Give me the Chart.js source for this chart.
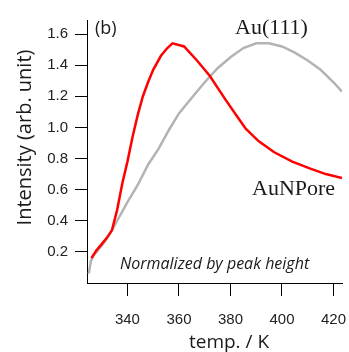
<!DOCTYPE html>
<html><head><meta charset="utf-8">
<script src="https://cdn.jsdelivr.net/npm/chart.js@4/dist/chart.umd.min.js"></script>
<style>html,body{margin:0;padding:0;background:#fff;overflow:hidden}</style>
</head><body>
<canvas id="c" width="349" height="352" style="width:349px;height:352px;display:block"></canvas>
<script>
// AuNPore (red)
const auNPoreTemp = [326, 328, 330, 332, 334, 336, 338, 340, 342, 344, 346, 348, 350, 353, 355.5, 357.5, 362, 367, 372, 378, 383, 386, 391, 397, 404, 411, 417, 423.3];
const auNPoreIntensity = [0.16, 0.21, 0.25, 0.29, 0.34, 0.47, 0.64, 0.78, 0.94, 1.08, 1.20, 1.29, 1.37, 1.46, 1.51, 1.54, 1.52, 1.43, 1.33, 1.18, 1.06, 0.99, 0.91, 0.84, 0.78, 0.735, 0.70, 0.675];
// Au(111) (grey)
const au111Temp = [325.0, 325.8, 327, 330, 333, 336, 340, 344, 348, 352, 356, 360, 365, 370, 375, 380, 385, 390, 395, 400, 405, 410, 415, 420, 423.3];
const au111Intensity = [0.06, 0.14, 0.18, 0.24, 0.31, 0.40, 0.52, 0.63, 0.76, 0.86, 0.98, 1.09, 1.19, 1.29, 1.38, 1.45, 1.51, 1.54, 1.54, 1.52, 1.48, 1.43, 1.37, 1.29, 1.23];
const xTickValues = [340, 360, 380, 400, 420];
const yTickValues = [0.2, 0.4, 0.6, 0.8, 1.0, 1.2, 1.4, 1.6];
const xAxisTitle = 'temp. / K';
const yAxisTitle = 'Intensity (arb. unit)';
const panelLabel = '(b)';
const au111Label = 'Au(111)';
const auNPoreLabel = 'AuNPore';
const noteText = 'Normalized by peak height';

const toPts = (xs, ys) => xs.map((x, i) => ({x: x, y: ys[i]}));

const textPlugin = {
  id: 'texts',
  afterDraw(chart) {
    const ctx = chart.ctx;
    ctx.save();
    ctx.fillStyle = '#1a1a1a';
    // y title
    ctx.save();
    ctx.translate(31, 137.5);
    ctx.rotate(-Math.PI / 2);
    ctx.font = '20px "Open Sans"';
    ctx.textAlign = 'center';
    ctx.textBaseline = 'alphabetic';
    ctx.fillText(yAxisTitle, 0, 0);
    ctx.restore();
    // x title
    ctx.font = '19px "Open Sans"';
    ctx.textAlign = 'center';
    ctx.textBaseline = 'alphabetic';
    ctx.fillText(xAxisTitle, 229, 348);
    // panel label
    ctx.textAlign = 'left';
    ctx.font = '18px "Open Sans"';
    ctx.fillText(panelLabel, 95, 34);
    // series labels
    ctx.font = '22px "Liberation Serif"';
    ctx.fillText(au111Label, 235, 34);
    ctx.fillText(auNPoreLabel, 252, 195);
    // note
    ctx.font = 'italic 16px "Open Sans"';
    ctx.fillText(noteText, 120, 269);
    ctx.restore();
  }
};

new Chart(document.getElementById('c'), {
  type: 'line',
  data: {
    datasets: [
      { label: auNPoreLabel, data: toPts(auNPoreTemp, auNPoreIntensity), borderColor: '#ff0000', borderWidth: 2.5, pointRadius: 0, tension: 0, fill: false },
      { label: au111Label, data: toPts(au111Temp, au111Intensity), borderColor: '#b3b3b3', borderWidth: 2.5, pointRadius: 0, tension: 0, fill: false }
    ]
  },
  options: {
    responsive: false,
    devicePixelRatio: 1,
    animation: false,
    layout: { padding: { left: 0, right: 7, top: 20, bottom: 0 } },
    plugins: { legend: { display: false }, tooltip: { enabled: false } },
    scales: {
      x: {
        type: 'linear', min: 324.3, max: 423.3,
        afterBuildTicks: s => { s.ticks = xTickValues.map(v => ({ value: v })); },
        afterFit: s => { s.height = 69; s.paddingLeft = 0; s.paddingRight = 0; },
        grid: { display: true, drawOnChartArea: false, drawTicks: true, tickLength: 13, tickColor: '#000', tickWidth: 1 },
        border: { display: true, color: '#000', width: 1 },
        ticks: { color: '#222', font: { family: '"Liberation Sans", Arial', size: 15 }, padding: 15, maxRotation: 0, autoSkip: false }
      },
      y: {
        type: 'linear', min: 0, max: 1.69,
        afterBuildTicks: s => { s.ticks = yTickValues.map(v => ({ value: v })); },
        afterFit: s => { s.width = 87; s.paddingTop = 0; s.paddingBottom = 0; },
        grid: { display: true, drawOnChartArea: false, drawTicks: true, tickLength: 12, tickColor: '#000', tickWidth: 1 },
        border: { display: true, color: '#000', width: 1 },
        ticks: { color: '#222', font: { family: '"Liberation Sans", Arial', size: 15 }, padding: 7, callback: v => Number(v).toFixed(1) }
      }
    }
  },
  plugins: [textPlugin]
});
</script>
</body></html>
